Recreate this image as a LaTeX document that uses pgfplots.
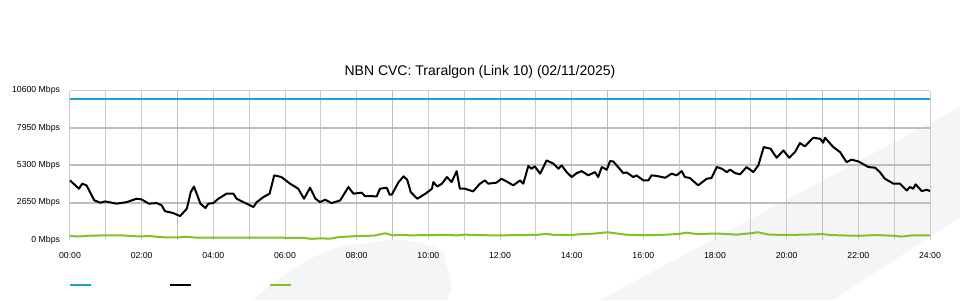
\documentclass[border=0pt]{standalone}
\usepackage{fontspec}
\setmainfont{Liberation Sans}
\usepackage{pgfplots}
\pgfplotsset{compat=1.18}
\definecolor{cblue}{RGB}{27,160,226}
\definecolor{cgreen}{RGB}{128,194,40}
\definecolor{wm}{RGB}{244,245,247}
\definecolor{gridl}{RGB}{204,204,204}
\definecolor{gridd}{RGB}{190,190,190}
\begin{document}
\begin{tikzpicture}[x=1pt,y=1pt]
\useasboundingbox (0,0) rectangle (960,300);
\fill[white] (0,0) rectangle (960,300);
% background watermark
\fill[wm] (600,0) -- (960,193) -- (960,83) -- (833,0) -- cycle;
\fill[wm] (253,0) .. controls (285,28) and (315,48) .. (346,54) -- (397,61) .. controls (420,58) and (435,54) .. (443,49) -- (452,14) -- (447,0) -- cycle;
\node[anchor=base,font=\fontsize{14}{16}\selectfont] at (480,224) {NBN CVC: Traralgon (Link 10) (02/11/2025)};
\begin{axis}[
  at={(70pt,60pt)}, anchor=south west,
  scale only axis, width=860pt, height=149.3pt,
  xmin=0, xmax=24, ymin=0, ymax=10600,
  scaled y ticks=false,
  axis line style={draw=none},
  major tick length=0pt, minor tick length=0pt,
  xtick={0,2,...,24},
  xticklabels={00:00,02:00,04:00,06:00,08:00,10:00,12:00,14:00,16:00,18:00,20:00,22:00,24:00},
  minor xtick={1,3,...,23},
  xmajorgrids, xminorgrids,
  major grid style={color=gridl, line width=1pt},
  minor grid style={color=gridl, line width=1pt},
  ytick={0,2650,5300,7950,10600},
  yticklabels={0 Mbps,2650 Mbps,5300 Mbps,7950 Mbps,10600 Mbps},
  ymajorgrids=false,
  extra y ticks={2650,5300,7950},
  extra y tick labels={},
  extra y tick style={grid=major, major grid style={color=gridd, line width=1.8pt}},
  ticklabel style={font=\fontsize{8.7}{10}\selectfont},
  xticklabel style={yshift=-8.5pt},
  yticklabel style={xshift=-6.5pt},
  clip=false,
]
\draw[gridl, line width=1pt] (axis cs:0,10600) -- (axis cs:24,10600);
\draw[gridd, line width=1.8pt] (axis cs:3,0) -- (axis cs:3,10600);
\draw[gridd, line width=1.8pt] (axis cs:9,0) -- (axis cs:9,10600);
\draw[gridd, line width=1.8pt] (axis cs:15,0) -- (axis cs:15,10600);
\draw[gridd, line width=1.8pt] (axis cs:21,0) -- (axis cs:21,10600);
\addplot[cblue, line width=2.2pt] coordinates {(0,10030) (24,10030)};
\addplot[cgreen, line width=2pt, line join=round] coordinates {
(0,280)(0.25,250)(0.5,300)(1,330)(1.5,320)(1.75,270)(2,260)(2.25,280)(2.5,200)(3,180)(3.25,230)(3.5,170)(4,160)(4.5,160)(5,160)(5.5,160)(6,160)(6.5,150)(6.75,80)(7,120)(7.25,90)(7.5,200)(8,280)(8.25,290)(8.5,320)(8.8,480)(9,330)(9.3,370)(9.5,330)(10,350)(10.5,360)(10.8,330)(11,380)(11.5,340)(12,330)(12.5,350)(13,360)(13.3,440)(13.5,360)(14,360)(14.3,420)(14.6,450)(15,550)(15.2,480)(15.5,380)(16,340)(16.5,360)(17,430)(17.2,520)(17.5,420)(18,460)(18.3,430)(18.6,380)(19,480)(19.2,550)(19.5,380)(20,360)(20.5,380)(21,420)(21.2,360)(21.5,330)(22,300)(22.5,350)(23,300)(23.2,240)(23.5,330)(24,330)
};
\addplot[black, line width=2pt, line join=round] coordinates {
(0,4230)(0.25,3640)(0.34,4000)(0.46,3880)(0.68,2810)(0.85,2650)(0.98,2740)(1.3,2580)(1.58,2690)(1.72,2810)(1.86,2930)(2.0,2880)(2.2,2580)(2.42,2620)(2.56,2460)(2.65,2050)(2.88,1910)(3.07,1700)(3.26,2220)(3.37,3400)(3.46,3800)(3.64,2580)(3.78,2270)(3.86,2580)(4.0,2620)(4.14,2930)(4.37,3290)(4.56,3290)(4.65,2930)(4.84,2690)(5.12,2340)(5.21,2690)(5.4,3050)(5.57,3290)(5.7,4590)(5.9,4470)(6.14,4000)(6.37,3640)(6.53,2930)(6.7,3710)(6.85,2930)(6.98,2690)(7.12,2860)(7.3,2620)(7.54,2810)(7.77,3760)(7.91,3290)(8.14,3360)(8.23,3120)(8.56,3100)(8.65,3640)(8.84,3710)(8.92,3220)(8.98,3220)(9.17,4110)(9.31,4520)(9.41,4280)(9.51,3400)(9.69,2930)(9.92,3290)(10.1,3640)(10.14,4110)(10.25,3800)(10.38,4000)(10.52,4470)(10.65,4110)(10.79,4890)(10.88,3640)(11.02,3640)(11.25,3450)(11.44,4000)(11.58,4230)(11.67,4000)(11.9,4070)(12.04,4350)(12.18,4160)(12.37,3880)(12.56,4230)(12.65,4000)(12.79,5250)(12.88,5060)(12.97,5230)(13.12,4710)(13.3,5650)(13.49,5420)(13.63,5060)(13.72,5300)(13.86,4820)(14.0,4470)(14.14,4750)(14.28,4890)(14.46,4590)(14.65,4820)(14.74,4470)(14.84,5180)(14.98,4990)(15.07,5600)(15.16,5580)(15.44,4750)(15.53,4800)(15.72,4470)(15.81,4590)(16.0,4230)(16.14,4230)(16.23,4590)(16.37,4550)(16.61,4420)(16.79,4710)(16.93,4590)(17.07,4890)(17.16,4470)(17.3,4400)(17.53,3880)(17.77,4350)(17.9,4400)(18.05,5180)(18.19,5060)(18.33,4820)(18.42,5000)(18.56,4750)(18.7,4660)(18.88,5180)(19.07,4820)(19.21,5300)(19.36,6600)(19.55,6480)(19.72,5840)(19.91,6360)(20.07,5840)(20.23,6240)(20.37,6880)(20.51,6650)(20.74,7260)(20.93,7190)(21.02,6910)(21.07,7260)(21.3,6600)(21.49,6240)(21.67,5530)(21.81,5700)(22.0,5580)(22.28,5180)(22.47,5130)(22.6,4820)(22.74,4350)(22.98,4000)(23.16,4000)(23.35,3520)(23.44,3760)(23.53,3640)(23.6,3950)(23.77,3470)(23.91,3570)(24.0,3470)
};
\end{axis}
% legend swatches (no text in the reference)
\draw[cblue, line width=2pt] (70,15) -- (91,15);
\draw[black, line width=2pt] (170,15) -- (191,15);
\draw[cgreen, line width=2pt] (270,15) -- (291,15);
\end{tikzpicture}
\end{document}
